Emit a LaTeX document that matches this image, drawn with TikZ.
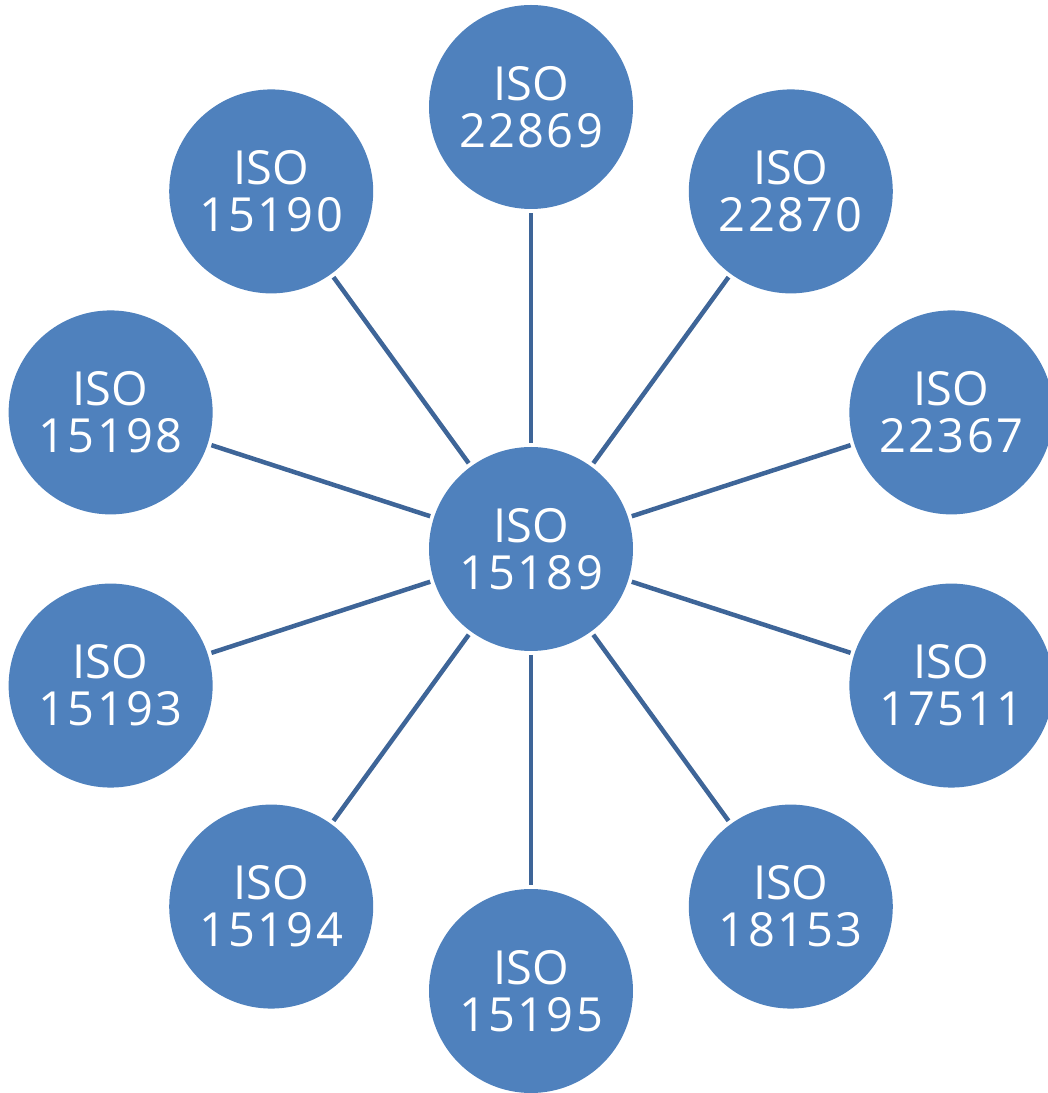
\documentclass[tikz,border=0pt]{standalone}
\usepackage{fontspec}
\setmainfont{Open Sans}
\newfontfamily\digitfont[LetterSpace=5]{Open Sans}
\usetikzlibrary{calc}
\definecolor{circfill}{RGB}{79,129,189}
\definecolor{linkcol}{RGB}{62,101,152}
\begin{document}
\begin{tikzpicture}[x=1pt,y=1pt,
  isocirc/.style={circle, fill=circfill, minimum size=204pt, inner sep=0pt, outer sep=0pt,
    text=white, align=center, font=\fontsize{47}{47}\selectfont},
  link/.style={draw=linkcol, line width=4.5pt, shorten <=4pt, shorten >=4pt}]
\useasboundingbox (0,0) rectangle (1048,1093);
\clip (0,0) rectangle (1048,1093);
\coordinate (ctr) at (531,544);
\node[isocirc] (c) at (ctr) {ISO\\{\digitfont 15189}};
\foreach \ang/\lab/\nm in {90/22869/a, 54/22870/b, 18/22367/d, -18/17511/e, -54/18153/f, -90/15195/g, -126/15194/h, -162/15193/i, 162/15198/j, 126/15190/k} {
  \node[isocirc] (\nm) at ($(ctr)+(\ang:442)$) {ISO\\{\digitfont \lab}};
  \draw[link] (c) -- (\nm);
}
\end{tikzpicture}
\end{document}
